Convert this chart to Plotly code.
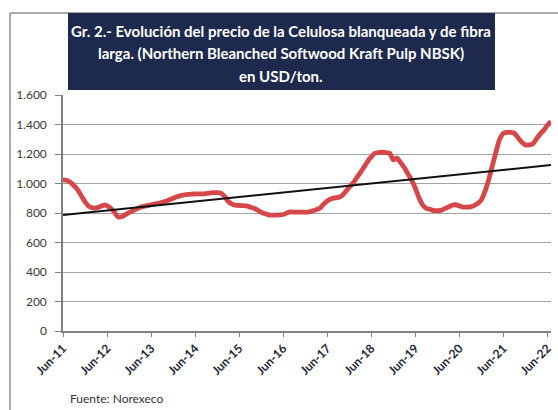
import numpy as np
import pandas as pd
import plotly.graph_objects as go

# Monthly NBSK pulp price, USD/ton, June 2011 – July 2022
start_month = "2011-06-01"
prices = [
    1025, 1022, 1008, 985, 957, 915, 875, 845, 835, 834, 842, 852,      # Jun-11 .. May-12
    850, 832, 805, 772, 776, 790, 803, 815, 828, 838, 845, 850,         # Jun-12 .. May-13
    856, 861, 866, 872, 880, 890, 900, 910, 918, 922, 926, 928,         # Jun-13 .. May-14
    929, 930, 930, 932, 935, 938, 938, 935, 912, 880, 862, 853,         # Jun-14 .. May-15
    851, 850, 848, 840, 832, 820, 805, 795, 788, 786, 785, 787,         # Jun-15 .. May-16
    790, 800, 807, 806, 806, 806, 806, 808, 815, 822, 832, 860,         # Jun-16 .. May-17
    882, 895, 902, 906, 918, 945, 975, 1003, 1040, 1072, 1110, 1148,    # Jun-17 .. May-18
    1180, 1205, 1210, 1212, 1210, 1205, 1160, 1172, 1140, 1110, 1065, 1025,  # Jun-18 .. May-19
    970, 905, 855, 832, 825, 816, 816, 818, 830, 840, 852, 856,         # Jun-19 .. May-20
    848, 840, 840, 842, 850, 865, 890, 950, 1030, 1120, 1215, 1300,     # Jun-20 .. May-21
    1340, 1346, 1346, 1340, 1310, 1280, 1262, 1262, 1270, 1300, 1335, 1360,  # Jun-21 .. May-22
    1395, 1420,                                                          # Jun-22 .. Jul-22
]
y_ticks = [0, 200, 400, 600, 800, 1000, 1200, 1400, 1600]

title_lines = [
    "Gr. 2.- Evolución del precio de la Celulosa blanqueada y de fibra",
    "larga. (Northern Bleanched Softwood Kraft Pulp NBSK)",
    "en USD/ton.",
]
source_text = "Fuente: Norexeco"

dates = pd.date_range(start_month, periods=len(prices), freq="MS")

# Linear trend fitted over the whole series
idx = np.arange(len(prices))
slope, intercept = np.polyfit(idx, prices, 1)
trend = slope * idx + intercept

# Page geometry (pixels) and conversion helpers to paper coordinates
W, H = 558, 410
L, R, T, B = 63, 7, 95, 79
pw, ph = W - L - R, H - T - B


def px(x):
    return (x - L) / pw


def py(y):
    return (H - B - y) / ph


fig = go.Figure()
fig.add_trace(go.Scatter(
    x=dates, y=prices, mode="lines",
    line=dict(color="#d6474a", width=4.8, shape="spline", smoothing=0.6),
    hoverinfo="x+y", showlegend=False,
))
fig.add_trace(go.Scatter(
    x=[dates[0], dates[-1]], y=[trend[0], trend[-1]], mode="lines",
    line=dict(color="#111111", width=2),
    showlegend=False,
))

shapes = [
    # outer frame (top and left edges)
    dict(type="line", xref="paper", yref="paper", x0=px(10), x1=px(W + 5), y0=py(13), y1=py(13),
         line=dict(color="#8e8e8e", width=1.5)),
    dict(type="line", xref="paper", yref="paper", x0=px(10), x1=px(10), y0=py(13), y1=py(H + 5),
         line=dict(color="#8e8e8e", width=1.5)),
    # title banner
    dict(type="rect", xref="paper", yref="paper", x0=px(68), x1=px(495), y0=py(90), y1=py(13),
         fillcolor="#1d2a4d", line=dict(width=0), layer="above"),
]

annotations = []
for i, line in enumerate(title_lines):
    annotations.append(dict(
        text=line, xref="paper", yref="paper", x=px(281), y=py(31.5 + 22 * i),
        xanchor="center", yanchor="middle", showarrow=False,
        font=dict(family="Lato", size=15, color="#ffffff", weight="bold"),
    ))
annotations.append(dict(
    text=source_text, xref="paper", yref="paper", x=px(68), y=py(398),
    xanchor="left", yanchor="middle", showarrow=False,
    font=dict(family="Lato", size=12, color="#333333"),
))

fig.update_layout(
    width=W, height=H,
    margin=dict(l=L, r=R, t=T, b=B, autoexpand=False),
    paper_bgcolor="white", plot_bgcolor="white",
    separators=",.",
    shapes=shapes, annotations=annotations,
    showlegend=False,
)
fig.update_xaxes(
    type="date", range=[dates[0], dates[-1]],
    tick0=start_month, dtick="M12", tickformat="%b-%y",
    tickangle=-45, ticks="outside", ticklen=4, tickcolor="#808080",
    tickfont=dict(family="Lato", size=12, color="#1e2638", weight="bold"),
    showgrid=False, showline=True, linecolor="#808080", linewidth=1.5,
    zeroline=False,
)
fig.update_yaxes(
    range=[0, 1600], tickvals=y_ticks, tickformat=",d",
    ticks="outside", ticklen=6, tickcolor="#808080",
    tickfont=dict(family="Lato", size=12, color="#3a3a3a"),
    ticklabelstandoff=6,
    showgrid=True, gridcolor="#a3a3a3", gridwidth=1.3,
    showline=True, linecolor="#808080", linewidth=1.5,
    zeroline=False,
)

fig.write_html("out.html")
